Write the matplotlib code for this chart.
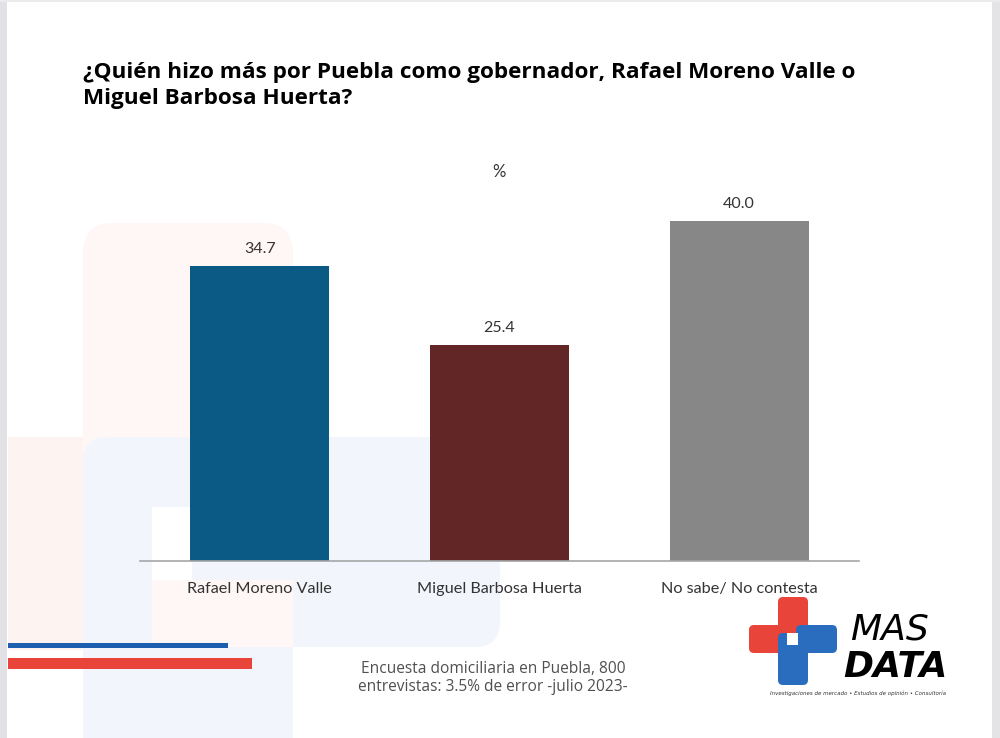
import matplotlib
matplotlib.use("Agg")
import matplotlib.pyplot as plt
from matplotlib.patches import Rectangle, FancyBboxPatch

categories = ["Rafael Moreno Valle", "Miguel Barbosa Huerta", "No sabe/ No contesta"]
values = [34.7, 25.4, 40.0]
value_labels = ["34.7", "25.4", "40.0"]
colors = ["#0B5A86", "#632626", "#878787"]

title = "¿Quién hizo más por Puebla como gobernador, Rafael Moreno Valle o\nMiguel Barbosa Huerta?"
subtitle = "%"
footer = "Encuesta domiciliaria en Puebla, 800\nentrevistas: 3.5% de error -julio 2023-"
tagline = "Investigaciones de mercado • Estudios de opinión • Consultoría"

W, H = 1000, 738
fig = plt.figure(figsize=(W / 100, H / 100), dpi=100)
fig.patch.set_facecolor("white")

# background / decoration axes in pixel coords
bg = fig.add_axes([0, 0, 1, 1], zorder=0)
bg.set_xlim(0, W)
bg.set_ylim(H, 0)
bg.axis("off")

def rect(x0, y0, x1, y1, color, **kw):
    bg.add_patch(Rectangle((x0, y0), x1 - x0, y1 - y0, facecolor=color, edgecolor="none", **kw))

def rrect(x0, y0, x1, y1, color, r, **kw):
    bg.add_patch(FancyBboxPatch((x0 + r, y0 + r), x1 - x0 - 2 * r, y1 - y0 - 2 * r,
                                boxstyle=f"round,pad={r}", facecolor=color, edgecolor="none", **kw))

pink = "#FEF7F5"
lblue = "#F2F6FC"
# faint watermark cross
rrect(83, 223, 293, 700, pink, 30)
rect(8, 437, 83, 650, "#FDF4F1")
rrect(83, 437, 500, 647, lblue, 25)
rect(83, 600, 293, 738, lblue)
rect(152, 507, 192, 580, "white")
rect(152, 580, 293, 647, pink)

# screenshot border
rect(0, 0, 7, H, "#E2E2E6")
rect(992, 0, W, H, "#E4E4E6")
rect(0, 0, W, 2, "#EBEBEB")

# decorative lines
rect(8, 643, 228, 648, "#1B5FAE")
rect(8, 658, 252, 669, "#E8443A")

# logo
red = "#E8443A"
blue = "#2A6DBF"
rrect(778, 597, 808, 645, red, 5)
rrect(749, 625, 790, 653, red, 5)
rrect(796, 625, 837, 653, blue, 5)
rrect(778, 633, 808, 685, blue, 5)
rect(787, 633, 798, 645, "white")
bg.text(850, 640, "MAS", fontsize=26, style="italic", fontweight="light",
        family="DejaVu Sans", color="black", ha="left", va="baseline")
bg.text(843, 677, "DATA", fontsize=26, style="italic", fontweight="bold",
        family="DejaVu Sans", color="black", ha="left", va="baseline")
bg.text(858, 693, tagline, fontsize=4, style="italic", color="#333333", ha="center", va="center")

# main chart axes
ax_left, ax_right, ax_bottom_px = 140, 859, 561
ymax = 45
px_per_unit = 8.5
ax_h = ymax * px_per_unit
ax = fig.add_axes([ax_left / W, (H - ax_bottom_px) / H, (ax_right - ax_left) / W, ax_h / H], zorder=1)
ax.patch.set_alpha(0)
x = list(range(len(categories)))
bars = ax.bar(x, values, width=0.58, color=colors, zorder=2)
ax.set_xlim(-0.5, 2.5)
ax.set_ylim(0, ymax)
for s in ["top", "right", "left"]:
    ax.spines[s].set_visible(False)
ax.spines["bottom"].set_color("#A6A6A6")
ax.spines["bottom"].set_linewidth(1.2)
ax.set_yticks([])
ax.set_xticks(x)
ax.set_xticklabels(categories, fontsize=11.7, family="Lato", color="#333333")
ax.tick_params(axis="x", length=0, pad=15)
ax.bar_label(bars, labels=value_labels, padding=7, fontsize=11.5, family="Lato", color="#333333")

fig.text(83 / W, 1 - 62 / H, title, fontsize=16.2, fontweight="bold", family="Open Sans",
         color="black", ha="left", va="top", linespacing=1.3)
fig.text(499 / W, 1 - 172 / H, subtitle, fontsize=12, family="Lato", color="#333333",
         ha="center", va="center")
fig.text(493 / W, 1 - 678 / H, footer, fontsize=11.2, family="Open Sans",
         color="#505050", ha="center", va="center", linespacing=1.1)

fig.savefig("out.png", dpi=100)
